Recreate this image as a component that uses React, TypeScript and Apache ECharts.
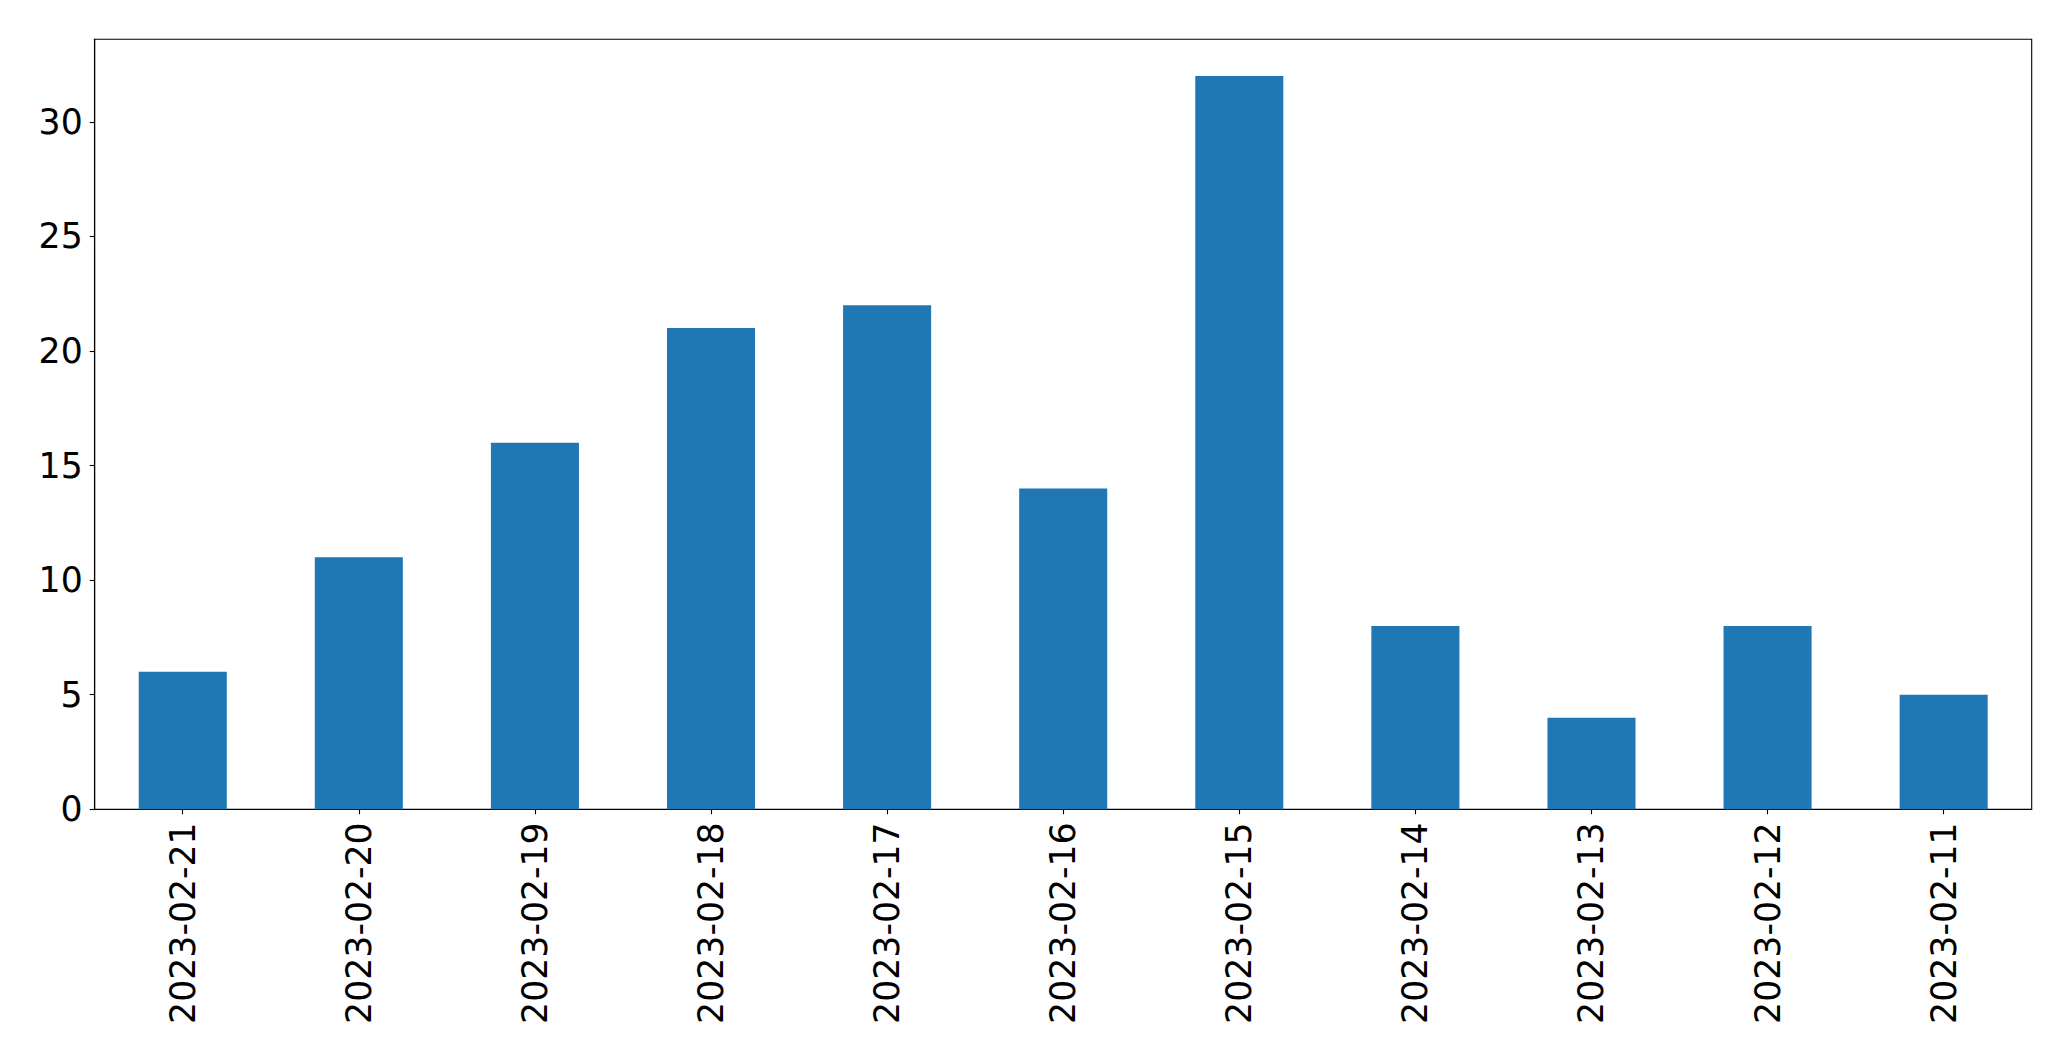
import React, { useEffect, useRef } from "react";
import * as echarts from "echarts";

const categories = [
  "2023-02-21", "2023-02-20", "2023-02-19", "2023-02-18", "2023-02-17", "2023-02-16",
  "2023-02-15", "2023-02-14", "2023-02-13", "2023-02-12", "2023-02-11",
];
const values = [6, 11, 16, 21, 22, 14, 32, 8, 4, 8, 5];
const yTicks = [0, 5, 10, 15, 20, 25, 30];
const yMax = 33.6;

const FONT = "DejaVu Sans";
const FS = 34.7;

export default function App() {
  const ref = useRef<HTMLDivElement>(null);
  useEffect(() => {
    if (!ref.current) return;
    const chart = echarts.init(ref.current, undefined, { renderer: "svg" });
    chart.setOption({
      animation: false,
      backgroundColor: "#ffffff",
      grid: {
        left: 94.7,
        top: 39.3,
        right: 39.3,
        bottom: 251.7,
        show: true,
        borderColor: "#000000",
        borderWidth: 1.1,
        backgroundColor: "transparent",
        containLabel: false,
      },
      xAxis: {
        type: "category",
        data: categories,
        boundaryGap: true,
        axisLine: { show: true, lineStyle: { color: "#000", width: 1.1 } },
        axisTick: { show: true, alignWithLabel: true, length: 5, lineStyle: { color: "#000", width: 1.1 } },
        axisLabel: {
          rotate: 90,
          margin: 13,
          interval: 0,
          color: "#000",
          fontFamily: FONT,
          fontSize: FS,
        },
        splitLine: { show: false },
      },
      yAxis: {
        type: "value",
        min: 0,
        max: yMax,
        interval: 5,
        axisLine: { show: true, lineStyle: { color: "#000", width: 1.1 } },
        axisTick: { show: true, length: 5, customValues: yTicks, lineStyle: { color: "#000", width: 1.1 } },
        axisLabel: {
          customValues: yTicks,
          margin: 12,
          color: "#000",
          fontFamily: FONT,
          fontSize: FS,
        },
        splitLine: { show: false },
      },
      series: [
        {
          type: "bar",
          data: values,
          barWidth: "50%",
          itemStyle: { color: "#1f77b4" },
        },
      ],
    });
    return () => chart.dispose();
  }, []);
  return (
    <div
      ref={ref}
      style={{ position: "fixed", left: 0, top: 0, width: 2071, height: 1061, background: "#fff" }}
    />
  );
}
